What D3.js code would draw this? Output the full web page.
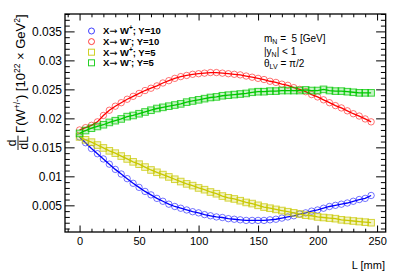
<!DOCTYPE html>
<html>
<head>
<meta charset="utf-8">
<script src="https://cdn.jsdelivr.net/npm/d3@7/dist/d3.min.js"></script>
<style>
  body { margin: 0; background: #fff; }
  svg { display: block; font-family: "Liberation Sans", Arial, Helvetica, sans-serif; }
</style>
</head>
<body>
<svg id="chart" width="407" height="277"></svg>
<script>
// L [mm] sampling points
var lengths = [0, 5, 10, 15, 20, 25, 30, 35, 40, 45, 50, 55, 60, 65, 70, 75, 80, 85, 90, 95,
  100, 105, 110, 115, 120, 125, 130, 135, 140, 145, 150, 155, 160, 165, 170, 175, 180, 185, 190, 195,
  200, 205, 210, 215, 220, 225, 230, 235, 240, 245];

// X -> W+ ; Y=10
var wPlusY10 = [0.0168, 0.0158, 0.0148, 0.0139, 0.0130, 0.0121, 0.0112, 0.0104, 0.0096, 0.0088,
  0.0081, 0.0074, 0.0068, 0.0062, 0.0057, 0.0052, 0.0048, 0.0045, 0.0042, 0.0039,
  0.0037, 0.0034, 0.0032, 0.0030, 0.0029, 0.0027, 0.0026, 0.0025, 0.0024, 0.0024,
  0.0024, 0.0024, 0.0025, 0.0026, 0.0028, 0.0030, 0.0032, 0.0035, 0.0037, 0.0040,
  0.0042, 0.0045, 0.0048, 0.0050, 0.0052, 0.0054, 0.0057, 0.0060, 0.0062, 0.0067];

// X -> W- ; Y=10
var wMinusY10 = [0.0180, 0.0184, 0.0188, 0.0194, 0.0205, 0.0214, 0.0221, 0.0227, 0.0233, 0.0238,
  0.0243, 0.0248, 0.0252, 0.0256, 0.0261, 0.0265, 0.0269, 0.0272, 0.0274, 0.0276,
  0.0277, 0.0278, 0.0279, 0.0279, 0.0278, 0.0277, 0.0276, 0.0275, 0.0273, 0.0271,
  0.0269, 0.0267, 0.0264, 0.0262, 0.0259, 0.0257, 0.0253, 0.0250, 0.0246, 0.0241,
  0.0237, 0.0232, 0.0227, 0.0222, 0.0218, 0.0213, 0.0208, 0.0204, 0.0199, 0.0194];

// X -> W+ ; Y=5
var wPlusY5 = [0.0168, 0.0163, 0.0159, 0.0154, 0.0149, 0.0144, 0.0140, 0.0135, 0.0130, 0.0125,
  0.0121, 0.0116, 0.0111, 0.0107, 0.0103, 0.0099, 0.0095, 0.0091, 0.0087, 0.0084,
  0.0080, 0.0077, 0.0073, 0.0070, 0.0066, 0.0063, 0.0061, 0.0058, 0.0055, 0.0053,
  0.0050, 0.0047, 0.0045, 0.0043, 0.0041, 0.0039, 0.0037, 0.0035, 0.0033, 0.0032,
  0.0030, 0.0029, 0.0028, 0.0027, 0.0025, 0.0024, 0.0023, 0.0022, 0.0021, 0.0020];

// X -> W- ; Y=5
var wMinusY5 = [0.0174, 0.0179, 0.0183, 0.0186, 0.0189, 0.0193, 0.0196, 0.0199, 0.0203, 0.0205,
  0.0208, 0.0211, 0.0214, 0.0217, 0.0219, 0.0221, 0.0223, 0.0225, 0.0228, 0.0230,
  0.0232, 0.0234, 0.0236, 0.0237, 0.0239, 0.0240, 0.0241, 0.0242, 0.0243, 0.0245,
  0.0246, 0.0246, 0.0247, 0.0247, 0.0248, 0.0248, 0.0248, 0.0248, 0.0249, 0.0248,
  0.0248, 0.0250, 0.0248, 0.0247, 0.0247, 0.0246, 0.0245, 0.0244, 0.0244, 0.0244];

var xTicks = [0, 50, 100, 150, 200, 250];
var yTicks = [0.005, 0.01, 0.015, 0.02, 0.025, 0.03, 0.035];
var yTickLabels = ["0.005", "0.01", "0.015", "0.02", "0.025", "0.03", "0.035"];

var series = [
  {name: "W", sign: "+", y: "10", values: wPlusY10, color: "#0000ff", marker: "circle"},
  {name: "W", sign: "-", y: "10", values: wMinusY10, color: "#ff0000", marker: "circle"},
  {name: "W", sign: "+", y: "5", values: wPlusY5, color: "#c8c800", marker: "square"},
  {name: "W", sign: "-", y: "5", values: wMinusY5, color: "#00c800", marker: "square"}
];

var svg = d3.select('#chart');
var frame = {left: 65, right: 385.7, top: 14, bottom: 232};

var x = d3.scaleLinear().domain([-12.25, 257.25]).range([frame.left, frame.right]);
var y = d3.scaleLinear().domain([0.0004, 0.038]).range([frame.bottom, frame.top]);

var xMinor = d3.range(-10, 257, 10).filter(function(v){ return v % 50 !== 0; });
var yMinor = d3.range(1, 39).map(function(v){ return v / 1000; }).filter(function(v){ return Math.round(v * 1000) % 5 !== 0; });

// axes, ticks drawn inward like ROOT
function drawAxis(axis, tx, ty, size) {
  var g = svg.append('g').attr('transform', 'translate(' + tx + ',' + ty + ')').call(axis);
  g.select('.domain').remove();
  g.selectAll('line').attr('stroke', '#000').attr('stroke-width', 1);
  g.selectAll('text').attr('fill', '#000').attr('font-size', size || 11).attr('font-family', '"Liberation Sans", Arial, sans-serif');
  return g;
}

var yFmt = function(d){ return yTickLabels[yTicks.indexOf(d)]; };

drawAxis(d3.axisBottom(x).tickValues(xTicks).tickSize(-6.5).tickPadding(5).tickFormat(d3.format('d')), 0, frame.bottom);
drawAxis(d3.axisBottom(x).tickValues(xMinor).tickSize(-3.3).tickFormat(''), 0, frame.bottom);
drawAxis(d3.axisTop(x).tickValues(xTicks).tickSize(-6.5).tickFormat(''), 0, frame.top);
drawAxis(d3.axisTop(x).tickValues(xMinor).tickSize(-3.3).tickFormat(''), 0, frame.top);

drawAxis(d3.axisLeft(y).tickValues(yTicks).tickSize(-9.6).tickPadding(3).tickFormat(yFmt), frame.left, 0, 12);
drawAxis(d3.axisLeft(y).tickValues(yMinor).tickSize(-4.8).tickFormat(''), frame.left, 0);
drawAxis(d3.axisRight(y).tickValues(yTicks).tickSize(-9.6).tickFormat(''), frame.right, 0);
drawAxis(d3.axisRight(y).tickValues(yMinor).tickSize(-4.8).tickFormat(''), frame.right, 0);

svg.append('rect')
  .attr('x', frame.left).attr('y', frame.top)
  .attr('width', frame.right - frame.left).attr('height', frame.bottom - frame.top)
  .attr('fill', 'none').attr('stroke', '#000').attr('stroke-width', 1.3);

// curves
var line = d3.line()
  .x(function(d){ return x(d[0]); })
  .y(function(d){ return y(d[1]); });

function drawMarker(sel, s, cx, cy) {
  if (s.marker === 'circle') {
    sel.append('circle').attr('cx', cx).attr('cy', cy).attr('r', 3.2)
      .attr('fill', 'none').attr('stroke', s.color).attr('stroke-opacity', 0.55).attr('stroke-width', 1);
  } else {
    sel.append('rect').attr('x', cx - 3.3).attr('y', cy - 3.3).attr('width', 6.6).attr('height', 6.6)
      .attr('fill', s.color).attr('fill-opacity', 0.22)
      .attr('stroke', s.color).attr('stroke-opacity', 0.75).attr('stroke-width', 1);
  }
}

series.forEach(function(s){
  var pts = lengths.map(function(l, i){ return [l, s.values[i]]; });
  var g = svg.append('g');
  pts.forEach(function(p){ drawMarker(g, s, x(p[0]), y(p[1])); });
  g.append('path').datum(pts).attr('d', line)
    .attr('fill', 'none').attr('stroke', s.color).attr('stroke-width', 1.3);
});

// legend
var legend = svg.append('g').attr('font-size', 9.5).attr('font-weight', 'bold');
series.forEach(function(s, i){
  var ly = 31 + i * 10.6;
  var g = legend.append('g');
  if (s.marker === 'circle') {
    g.append('circle').attr('cx', 91.5).attr('cy', ly).attr('r', 3)
      .attr('fill', 'none').attr('stroke', s.color).attr('stroke-opacity', 0.75).attr('stroke-width', 1);
  } else {
    g.append('rect').attr('x', 88.5).attr('y', ly - 3).attr('width', 6).attr('height', 6)
      .attr('fill', 'none').attr('stroke', s.color).attr('stroke-opacity', 0.85).attr('stroke-width', 1);
  }
  var t = g.append('text').attr('x', 103).attr('y', ly + 3.4).attr('fill', '#000');
  t.append('tspan').text('X');
  t.append('tspan').attr('font-family', '"DejaVu Sans", sans-serif').attr('font-weight', 'normal').text('\u2192');
  t.append('tspan').text(' ' + s.name);
  t.append('tspan').attr('font-size', 6.5).attr('dy', -4).text(s.sign);
  t.append('tspan').attr('dy', 4).text('; Y=' + s.y);
});

// info text
var info = svg.append('g').attr('font-size', 10).attr('fill', '#000');
var t1 = info.append('text').attr('x', 264).attr('y', 41.5);
t1.append('tspan').text('m');
t1.append('tspan').attr('font-size', 7).attr('dy', 2.5).text('N');
t1.append('tspan').attr('dy', -2.5).text('\u00a0=\u00a0\u00a05 [GeV]');
var t2 = info.append('text').attr('x', 264).attr('y', 54.5);
t2.append('tspan').text('|y');
t2.append('tspan').attr('font-size', 7).attr('dy', 2.5).text('N');
t2.append('tspan').attr('dy', -2.5).text('| < 1');
var t3 = info.append('text').attr('x', 264).attr('y', 66.5);
t3.append('tspan').text('\u03b8');
t3.append('tspan').attr('font-size', 7).attr('dy', 2.5).text('LV');
t3.append('tspan').attr('dy', -2.5).text(' = \u03c0/2');

// x title
svg.append('text').attr('x', 385).attr('y', 269).attr('text-anchor', 'end')
  .attr('font-size', 11).text('L [mm]');

// y title (rotated)
var yt = svg.append('g').attr('transform', 'translate(25,150) rotate(-90)');
yt.append('text').attr('x', 7.2).attr('y', -8.8).attr('text-anchor', 'middle').attr('font-size', 12).text('d');
yt.append('line').attr('x1', 0).attr('x2', 14.4).attr('y1', -7).attr('y2', -7).attr('stroke', '#000').attr('stroke-width', 0.9);
yt.append('text').attr('x', 7.2).attr('y', 2.8).attr('text-anchor', 'middle').attr('font-size', 12).text('dL');
var tt = yt.append('text').attr('x', 17).attr('y', 0).attr('font-size', 13);
tt.append('tspan').text('\u0393(W');
tt.append('tspan').attr('font-size', 8.5).attr('dy', -5.5).text('+/-');
tt.append('tspan').attr('dy', 5.5).text(') [10');
tt.append('tspan').attr('font-size', 8.5).attr('dy', -5.5).text('22');
tt.append('tspan').attr('dy', 5.5).text(' \u00d7 GeV');
tt.append('tspan').attr('font-size', 8.5).attr('dy', -5.5).text('2');
tt.append('tspan').attr('dy', 5.5).text(']');
</script>
</body>
</html>
